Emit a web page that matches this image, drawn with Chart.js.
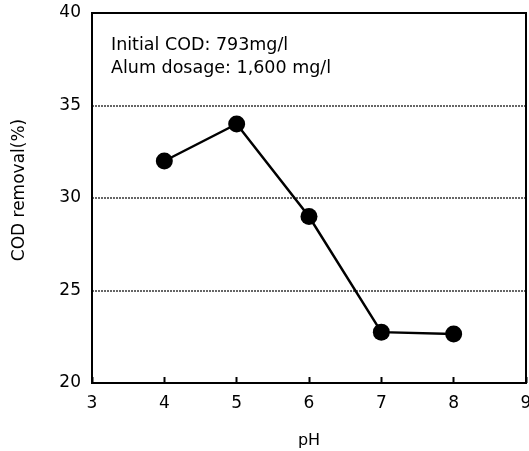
<!DOCTYPE html>
<html lang="en">
<head>
  <meta charset="UTF-8">
  <title>COD removal vs pH</title>
  <script src="https://cdn.jsdelivr.net/npm/chart.js"></script>
  <style>
    body { margin: 0; background: #fff; }
    #wrap { width: 529px; height: 451px; }
  </style>
</head>
<body>
  <div id="wrap"><canvas id="chart"></canvas></div>
  <script>
    // values
    const phValues = [4, 5, 6, 7, 8];
    const codRemoval = [32, 34, 29, 22.75, 22.65];
    const noteLines = ['Initial COD: 793mg/l', 'Alum dosage: 1,600 mg/l'];
    const yTitle = 'COD removal(%)';

    const FONT = '"DejaVu Sans", sans-serif';

    // black frame round the plot, note text top-left, y title (sits a bit above centre in the original)
    const framePlugin = {
      id: 'frame',
      afterDraw(chart) {
        const {ctx, chartArea: a} = chart;
        ctx.save();
        ctx.strokeStyle = '#000';
        ctx.lineWidth = 2;
        ctx.strokeRect(a.left, a.top, a.right - a.left, a.bottom - a.top);
        ctx.fillStyle = '#000';
        ctx.font = '17.5px ' + FONT;
        ctx.textBaseline = 'alphabetic';
        noteLines.forEach((t, i) => ctx.fillText(t, a.left + 19, a.top + 37 + i * 23));

        ctx.font = '17px ' + FONT;
        ctx.textAlign = 'center';
        ctx.textBaseline = 'middle';
        ctx.translate(20, (a.top + a.bottom) / 2 - 8);
        ctx.rotate(-Math.PI / 2);
        ctx.fillText(yTitle, 0, 0);
        ctx.restore();
      }
    };

    new Chart(document.getElementById('chart'), {
      type: 'scatter',
      data: {
        datasets: [{
          data: phValues.map((x, i) => ({x: x, y: codRemoval[i]})),
          showLine: true,
          borderColor: '#000',
          borderWidth: 2.5,
          backgroundColor: '#000',
          pointRadius: 8.5,
          pointHoverRadius: 8.5,
          pointBorderWidth: 0
        }]
      },
      options: {
        responsive: true,
        maintainAspectRatio: false,
        animation: false,
        layout: {autoPadding: false, padding: {top: 13, right: 3, left: 0, bottom: 0}},
        plugins: {legend: {display: false}, tooltip: {enabled: false}},
        scales: {
          x: {
            type: 'linear',
            min: 3, max: 9,
            afterFit(s) { s.height = 68; s.paddingLeft = 0; s.paddingRight = 0; },
            border: {display: false},
            grid: {
              display: true, drawOnChartArea: false, drawTicks: true,
              tickLength: -6, tickColor: '#000', tickWidth: 2
            },
            ticks: {stepSize: 1, padding: 16, color: '#000', font: {family: FONT, size: 17}},
            title: {display: true, text: 'pH', color: '#000', font: {family: FONT, size: 16}, padding: {top: 0, bottom: 1}}
          },
          y: {
            min: 20, max: 40,
            afterFit(s) { s.width = 92; s.paddingTop = 0; s.paddingBottom = 0; },
            border: {display: false, dash: [2, 1]},
            grid: {display: true, drawTicks: false, color: '#666', lineWidth: 2},
            ticks: {stepSize: 5, padding: 11, color: '#000', font: {family: FONT, size: 17}}
          }
        }
      },
      plugins: [framePlugin]
    });
  </script>
</body>
</html>
